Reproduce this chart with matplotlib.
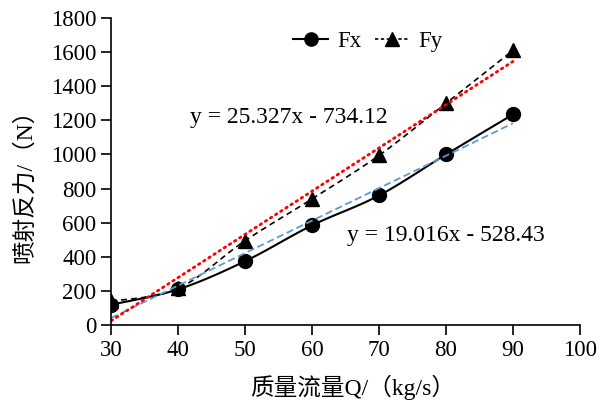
import matplotlib
matplotlib.use('agg')
import matplotlib.pyplot as plt
import numpy as np

plt.rcParams['font.family'] = ['Liberation Serif', 'Noto Sans CJK SC']

# data
flow = [30, 40, 50, 60, 70, 80, 90]
fx = [120, 210, 375, 585, 760, 1000, 1235]
fy = [140, 215, 495, 740, 995, 1300, 1610]
fx_fit = (19.016, -528.43)
fy_fit = (25.327, -734.12)


def smooth(xs, ys, n=20):
    # Excel-like smoothed line: cubic bezier between neighbouring points
    p = np.column_stack([xs, ys]).astype(float)
    p = np.vstack([p[0], p, p[-1]])
    out = []
    for i in range(1, len(p) - 2):
        a, b = p[i], p[i + 1]
        c1 = a + (p[i + 1] - p[i - 1]) / 6
        c2 = b - (p[i + 2] - p[i]) / 6
        t = np.linspace(0, 1, n)[:, None]
        seg = (1 - t)**3 * a + 3 * (1 - t)**2 * t * c1 + 3 * (1 - t) * t**2 * c2 + t**3 * b
        out.append(seg)
    out = np.vstack(out)
    return out[:, 0], out[:, 1]


fig = plt.figure(figsize=(6.01, 4.08), dpi=100)
ax = fig.add_axes([0.185, 0.203, 0.78, 0.753])

sx, sy = smooth(flow, fx)
ax.plot(sx, sy, color='black', lw=1.5)
ax.plot(flow, fx, 'o', color='black', ms=10)
sx, sy = smooth(flow, fy)
ax.plot(sx, sy, color='black', lw=1.2, ls=(0, (3.5, 2.5)))
ax.plot(flow, fy, '^', color='black', ms=10)

# legend proxies
ax.plot([], [], '-o', color='black', ms=9.5, lw=1.5, label='Fx')
ax.plot([], [], '^', ls=(0, (2, 1.5)), color='black', ms=9.5, lw=1.2, label='Fy')

xf = np.array([flow[0], flow[-1]])
ax.plot(xf, fx_fit[0] * xf + fx_fit[1], color='#5B9BD5', lw=1.3, ls=(0, (4, 2)))
ax.plot(xf, fy_fit[0] * xf + fy_fit[1], color='#FF0000', lw=2, ls=(0, (0.6, 1.6)),
        dash_capstyle='round')

ax.set_xlim(30, 100)
ax.set_ylim(0, 1800)
ax.set_xticks(range(30, 101, 10))
ax.set_yticks(range(0, 1801, 200))
ax.tick_params(labelsize=16.5, direction='out', length=7, width=1.2)
for s in ['top', 'right']:
    ax.spines[s].set_visible(False)
for s in ['left', 'bottom']:
    ax.spines[s].set_linewidth(1.2)

ax.text(41.8, 1219, 'y = 25.327x - 734.12', fontsize=17, va='center')
ax.text(65.2, 528, 'y = 19.016x - 528.43', fontsize=17, va='center')

ax.set_xlabel('质量流量Q/（kg/s）', fontsize=17)
ax.set_ylabel('喷射反力/（N）', fontsize=17)
ax.xaxis.set_label_coords(0.516, -0.16)
ax.yaxis.set_label_coords(-0.16, 0.47)

ax.legend(loc='upper center', bbox_to_anchor=(0.548, 1.025), ncol=2, frameon=False,
          fontsize=16.5, handlelength=1.5, columnspacing=0.6, handletextpad=0.4)

fig.savefig('out.png', dpi=100)
